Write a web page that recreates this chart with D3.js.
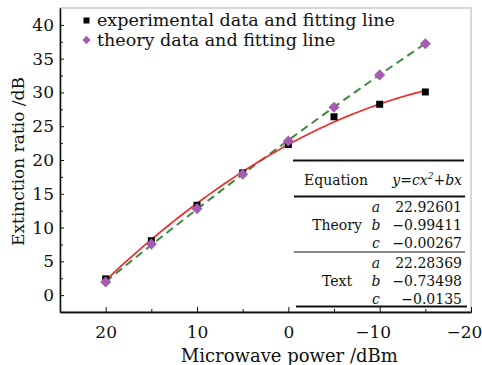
<!DOCTYPE html>
<html>
<head>
<meta charset="utf-8">
<script src="https://cdn.jsdelivr.net/npm/d3@7"></script>
<style>
  body { margin: 0; background: #fff; }
  text { font-family: "DejaVu Serif", "Liberation Serif", serif; fill: #111; }
</style>
</head>
<body>
<div id="chart"></div>
<script>
// data
var power = [20, 15, 10, 5, 0, -5, -10, -15]
var experimental = [2.4, 8.05, 13.3, 18.1, 22.3, 26.4, 28.25, 30.07]
var theory = [1.93, 7.55, 12.8, 17.9, 22.8, 27.8, 32.6, 37.2]

// fit coefficients as printed in the table [a, b, c]
var theoryFit = [22.92601, -0.99411, -0.00267]
var textFit = [22.28369, -0.73498, -0.0135]
var theoryFitLabels = ["22.92601", "\u22120.99411", "\u22120.00267"]
var textFitLabels = ["22.28369", "\u22120.73498", "\u22120.0135"]

var xTicks = [20, 10, 0, -10, -20]
var yTicks = [0, 5, 10, 15, 20, 25, 30, 35, 40]

const margin = {top: 8, right: 11, bottom: 53, left: 60},
    width = 482 - margin.left - margin.right,
    height = 365 - margin.top - margin.bottom

var svg = d3.select("#chart")
.append("svg")
.attr("width", 482)
.attr("height", 365)

var g = svg.append("g")
.attr("transform", "translate(" + margin.left + "," + margin.top + ")")

var x = d3.scaleLinear().domain([25, -20]).range([0, width])
var y = d3.scaleLinear().domain([-2.5, 42.5]).range([height, 0])

// frame
g.append("rect")
.attr("width", width)
.attr("height", height)
.attr("fill", "none")
.attr("stroke", "#b0b0b0")
.attr("stroke-width", 1)

// bottom axis, ticks inward
var xAxis = g.append("g")
.attr("transform", "translate(0," + height + ")")
.call(d3.axisBottom(x).tickValues(xTicks).tickSizeInner(-5).tickSizeOuter(0)
  .tickFormat(d => d < 0 ? "\u2212" + Math.abs(d) : d))
xAxis.selectAll("text")
.attr("dy", "1.35em")
.attr("dx", d => d < 0 ? -7 : 0)
.style("font-size", "17px")
.style("font-family", "DejaVu Serif")
g.append("g")
.attr("transform", "translate(0," + height + ")")
.call(d3.axisBottom(x).tickValues([15, 5, -5, -15]).tickSizeInner(-3).tickSizeOuter(0).tickFormat(""))

// left axis
var yAxis = g.append("g")
.call(d3.axisLeft(y).tickValues(yTicks).tickSizeInner(-4).tickSizeOuter(0))
yAxis.selectAll("text").attr("x", -6).style("font-size", "17px").style("font-family", "DejaVu Serif")
g.append("g")
.call(d3.axisLeft(y).tickValues(d3.range(2.5, 42.5, 5)).tickSizeInner(-3).tickSizeOuter(0).tickFormat(""))

g.selectAll(".domain").attr("stroke", "#111").attr("stroke-width", 1.3)
g.selectAll(".tick line").attr("stroke", "#111")

// axis titles
svg.append("text")
.attr("x", margin.left + x(0) + 1)
.attr("y", 362)
.attr("text-anchor", "middle")
.style("font-size", "18px")
.text("Microwave power /dBm")

svg.append("text")
.attr("transform", "translate(24,161.5) rotate(-90)")
.attr("text-anchor", "middle")
.style("font-size", "17px")
.text("Extinction ratio /dB")

// fit lines
function fitPoints(coef) {
  return d3.range(20, -15.01, -0.5).map(v => [v, coef[0] + coef[1] * v + coef[2] * v * v])
}
var line = d3.line()
.x(d => x(d[0]))
.y(d => y(d[1]))

g.append("path")
.attr("d", line(fitPoints(theoryFit)))
.attr("fill", "none")
.attr("stroke", "#3f8a3f")
.attr("stroke-width", 2)
.attr("stroke-dasharray", "8,5")

g.append("path")
.attr("d", line(fitPoints(textFit)))
.attr("fill", "none")
.attr("stroke", "#f02a2a")
.attr("stroke-width", 1.7)

// markers
g.selectAll(".sq")
.data(power)
.enter()
.append("rect")
.attr("x", (d, i) => x(d) - 3.5)
.attr("y", (d, i) => y(experimental[i]) - 3.5)
.attr("width", 7)
.attr("height", 7)
.attr("fill", "#000")

var diamond = d3.symbol().type(d3.symbolDiamond2).size(78)
g.selectAll(".dm")
.data(power)
.enter()
.append("path")
.attr("d", diamond)
.attr("transform", (d, i) => "translate(" + x(d) + "," + y(theory[i]) + ")")
.attr("fill", "#a55bb0")

// legend
svg.append("rect").attr("x", 83.5).attr("y", 17.5).attr("width", 6).attr("height", 6).attr("fill", "#000")
svg.append("path")
.attr("d", d3.symbol().type(d3.symbolDiamond2).size(44))
.attr("transform", "translate(86.5,40)")
.attr("fill", "#a55bb0")
svg.append("text").attr("x", 97).attr("y", 26).style("font-size", "17.5px").text("experimental data and fitting line")
svg.append("text").attr("x", 97).attr("y", 46).style("font-size", "17.5px").text("theory data and fitting line")

// parameter table
var tbl = svg.append("g")
function hline(x1, x2, yy, w) {
  tbl.append("line").attr("x1", x1).attr("x2", x2).attr("y1", yy).attr("y2", yy)
  .attr("stroke", "#111").attr("stroke-width", w)
}
hline(293, 464, 160.5, 1.8)
hline(294, 465, 196.5, 1.8)
hline(294, 465, 252, 1.2)
hline(296, 467, 306.5, 2.2)

tbl.append("text").attr("x", 336).attr("y", 185).attr("text-anchor", "middle")
.style("font-size", "14px").text("Equation")
var eq = tbl.append("text").attr("x", 462).attr("y", 185).attr("text-anchor", "end")
.style("font-size", "14px").style("font-style", "italic")
eq.append("tspan").text("y=cx")
eq.append("tspan").attr("dy", -6).style("font-size", "9px").text("2")
eq.append("tspan").attr("dy", 6).text("+bx")

var letters = ["a", "b", "c"]
function fitRows(name, labels, y0) {
  tbl.append("text").attr("x", 337).attr("y", y0 + 18).attr("text-anchor", "middle")
  .style("font-size", "14px").text(name)
  letters.forEach(function(l, i) {
    tbl.append("text").attr("x", 376).attr("y", y0 + i * 18).attr("text-anchor", "middle")
    .style("font-size", "14px").style("font-style", "italic").text(l)
    tbl.append("text").attr("x", 462).attr("y", y0 + i * 18).attr("text-anchor", "end")
    .style("font-size", "14px").text(labels[i])
  })
}
fitRows("Theory", theoryFitLabels, 212)
fitRows("Text", textFitLabels, 268)
</script>
</body>
</html>
